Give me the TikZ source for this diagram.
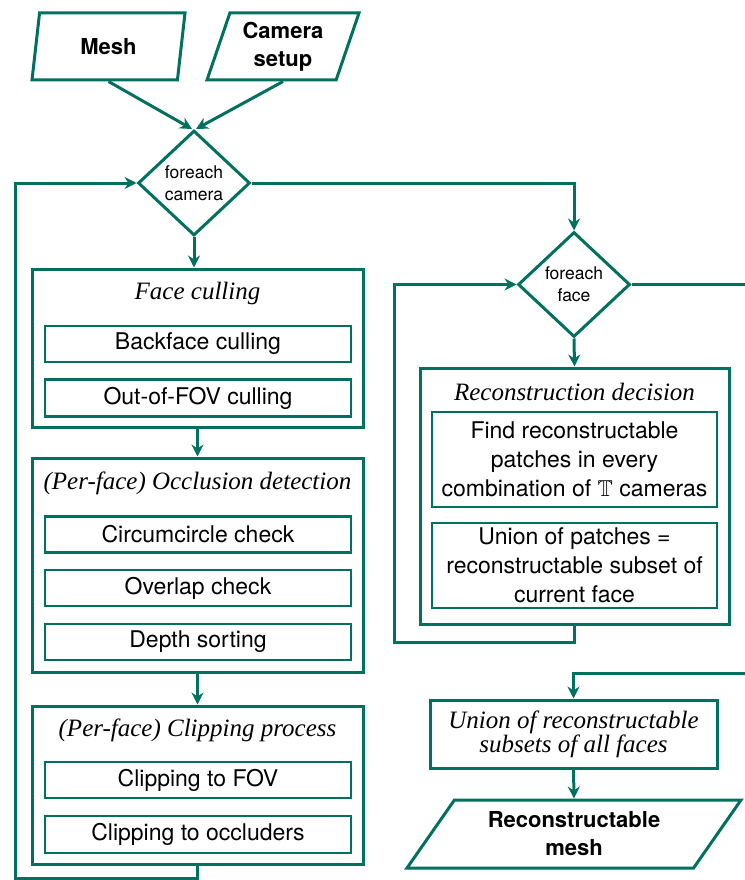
\documentclass[tikz,border=0pt]{standalone}
\usepackage{fontspec}
\setmainfont{Liberation Serif}
\setsansfont{TeX Gyre Heros}
\usepackage{amssymb}
\usetikzlibrary{positioning,shapes.geometric,arrows.meta}

\begin{document}
\begin{tikzpicture}[x=1pt,y=-1pt,every node/.style={font=\sffamily}]
	% Define colors
	\definecolor{flowteal}{RGB}{0,113,94}

	% Styles
	\tikzstyle{io_box} = [trapezium, trapezium stretches body, draw=flowteal, line width=3pt, font=\sffamily\bfseries\fontsize{22}{28}\selectfont, align=center, inner sep=0pt, minimum height=67pt]
	\tikzstyle{loop_box} = [diamond, draw=flowteal, line width=3pt, font=\sffamily\fontsize{17.5}{22}\selectfont, align=center, inner sep=0pt, minimum width=112pt, minimum height=105pt]
	\tikzstyle{group_box} = [draw=flowteal, line width=3pt, inner sep=0pt]
	\tikzstyle{group_title} = [font=\rmfamily\itshape\fontsize{25}{20}\selectfont, align=center, inner sep=0pt]
	\tikzstyle{step_box} = [draw=flowteal, line width=2.6pt, font=\sffamily\fontsize{23}{29}\selectfont, align=center, inner sep=0pt]
	\tikzstyle{flow} = [draw=flowteal, line width=3pt, -{Stealth[length=12pt,width=12pt,inset=4pt]}]
	\tikzstyle{plain_line} = [draw=flowteal, line width=3pt]

	\useasboundingbox (0,0) rectangle (744,880);

	% Inputs
	\node[io_box, trapezium left angle=65, trapezium right angle=115, minimum width=153pt] (mesh) at (108.5,46.5) {Mesh};
	\node[io_box, trapezium left angle=65, trapezium right angle=115, minimum width=152pt] (camsetup) at (283,46.5) {Camera\\setup};

	% Camera loop
	\node[loop_box] (cam) at (194,183) {foreach\\camera};

	% Face culling
	\node[group_box, minimum width=331pt, minimum height=158pt] (cull) at (197.5,348) {};
	\node[group_title] (culltitle) at (197.5,293) {Face culling};
	\node[step_box, minimum width=306pt, minimum height=36pt] (backface) at (198,344) {Backface culling};
	\node[step_box, minimum width=306pt, minimum height=37pt] (outfov) at (198,398) {Out-of-FOV culling};

	% Occlusion detection
	\node[group_box, minimum width=331pt, minimum height=214pt] (occl) at (197.5,565) {};
	\node[group_title] (occltitle) at (197.5,483) {(Per-face) Occlusion detection};
	\node[step_box, minimum width=306pt, minimum height=36pt] (circum) at (198,534.5) {Circumcircle check};
	\node[step_box, minimum width=306pt, minimum height=36pt] (overlap) at (198,588) {Overlap check};
	\node[step_box, minimum width=306pt, minimum height=36pt] (depth) at (198,642) {Depth sorting};

	% Clipping process
	\node[group_box, minimum width=331pt, minimum height=158pt] (clip) at (197.5,785) {};
	\node[group_title] (cliptitle) at (197.5,730) {(Per-face) Clipping process};
	\node[step_box, minimum width=306pt, minimum height=36pt] (clipfov) at (198,780) {Clipping to FOV};
	\node[step_box, minimum width=306pt, minimum height=37pt] (clipocc) at (198,834.5) {Clipping to occluders};

	% Face loop
	\node[loop_box] (face) at (574,284.5) {foreach\\face};

	% Reconstruction decision
	\node[group_box, minimum width=309pt, minimum height=256pt] (recon) at (574.5,496) {};
	\node[group_title] (recontitle) at (574.5,392) {Reconstruction decision};
	\node[step_box, minimum width=285pt, minimum height=95pt] (patches) at (574.5,459.5) {Find reconstructable\\patches in every\\combination of $\mathbb{T}$ cameras};
	\node[step_box, minimum width=285pt, minimum height=85pt] (subset) at (574.5,565.5) {Union of patches =\\reconstructable subset of\\current face};

	% Output
	\node[group_box, group_title, minimum width=287pt, minimum height=68pt] (union) at (573.5,734) {Union of reconstructable\\subsets of all faces};
	\node[io_box, trapezium left angle=43, trapezium right angle=137, minimum width=334pt, minimum height=68pt] (recmesh) at (574,834) {Reconstructable\\mesh};

	% Connectors
	\draw[flow] (mesh.south) -- ([xshift=-2pt]cam.north);
	\draw[flow] (camsetup.south) -- ([xshift=2pt]cam.north);
	\draw[flow] (cam.south) -- (cam.south |- cull.north);
	\draw[flow] (cull.south) -- (occl.north);
	\draw[flow] (occl.south) -- (clip.north);
	\coordinate (camback) at (15,878);
	\draw[flow] (clip.south) |- (camback) |- (cam.west);
	\draw[flow] (cam.east) -| (face.north);
	\coordinate (faceout) at (750,284.5);
	\draw[plain_line] (face.east) -- (faceout);
	\draw[flow] (face.south) -- (recon.north);
	\coordinate (faceback) at (394,642);
	\draw[flow] (recon.south) |- (faceback) |- (face.west);
	\coordinate (allin) at (750,673);
	\draw[flow] (allin) -| (union.north);
	\draw[flow] (union.south) -- (recmesh.north);

\end{tikzpicture}
\end{document}
